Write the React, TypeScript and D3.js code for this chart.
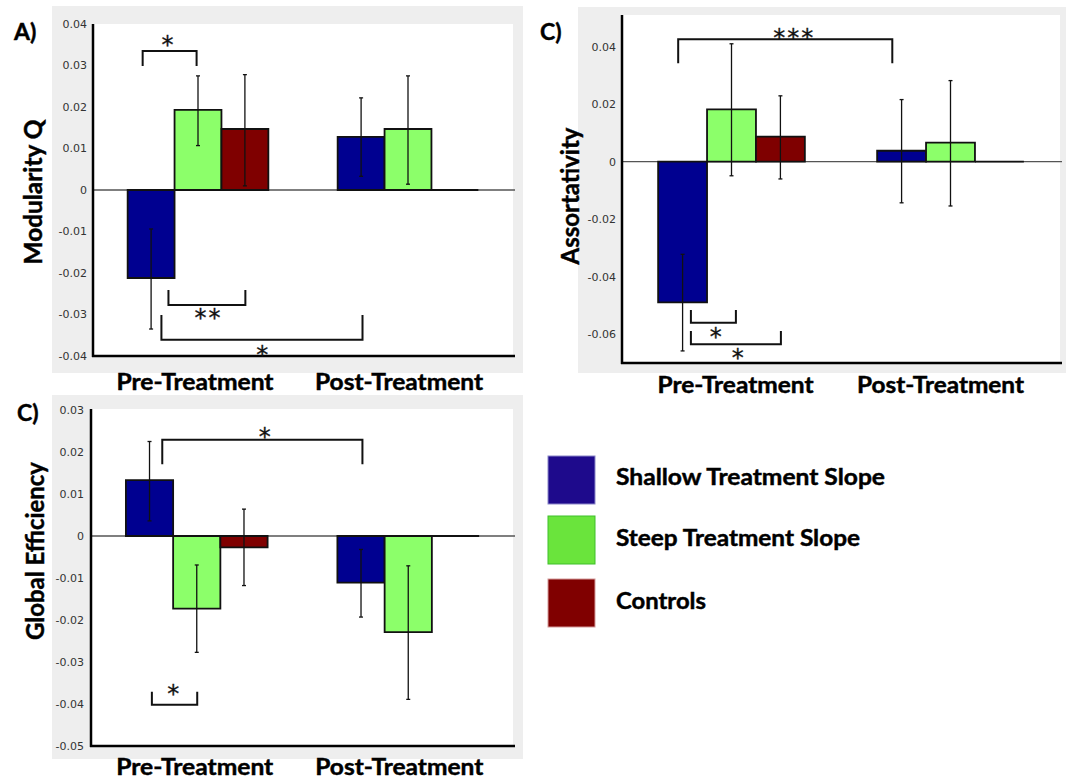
import React from "react";
import * as d3 from "d3";

// ---------- data ----------
const groups = ["Pre-Treatment", "Post-Treatment"];
const seriesNames = ["Shallow Treatment Slope", "Steep Treatment Slope", "Controls"];

// Modularity Q
const modularityShallow = [-0.0212, 0.0128];
const modularitySteep = [0.0193, 0.0147];
const modularityControls = [0.0147, 0];
const modularityShallowErr = [[-0.0335, -0.0094], [0.0033, 0.0222]];
const modularitySteepErr = [[0.0107, 0.0275], [0.0014, 0.0275]];
const modularityControlsErr = [[0.001, 0.0278], null];
const modularityTicks = [-0.04, -0.03, -0.02, -0.01, 0, 0.01, 0.02, 0.03, 0.04];
const modularityTickLabels = ["-0.04", "-0.03", "-0.02", "-0.01", "0", "0.01", "0.02", "0.03", "0.04"];
const modularityBrackets = [
  { from: [0, -0.18], to: [0, 0.97], bar: 0.0335, leg: 0.0299, text: "*", at: [0, 0.35], textY: 0.0363 },
  { from: [0, 0.37], to: [0, 2.01], bar: -0.0277, leg: -0.0241, text: "**", at: [0, 1.2], textY: -0.0296 },
  { from: [0, 0.22], to: [1, 0.03], bar: -0.0361, leg: -0.0301, text: "*", at: [0, 2.37], textY: -0.0383 },
];

// Assortativity
const assortShallow = [-0.0489, 0.0038];
const assortSteep = [0.0182, 0.0066];
const assortControls = [0.0087, 0];
const assortShallowErr = [[-0.0658, -0.0322], [-0.0143, 0.0216]];
const assortSteepErr = [[-0.0049, 0.041], [-0.0154, 0.0282]];
const assortControlsErr = [[-0.006, 0.0229], null];
const assortTicks = [-0.06, -0.04, -0.02, 0, 0.02, 0.04];
const assortTickLabels = ["-0.06", "-0.04", "-0.02", "0", "0.02", "0.04"];
const assortBrackets = [
  { from: [0, -0.09], to: [1, -0.19], bar: 0.0426, leg: 0.0342, text: "***", at: [0, 2.26], textY: 0.0451 },
  { from: [0, 0.17], to: [0, 1.09], bar: -0.056, leg: -0.0516, text: "*", at: [0, 0.68], textY: -0.0591 },
  { from: [0, 0.17], to: [0, 2.01], bar: -0.0635, leg: -0.0589, text: "*", at: [0, 1.13], textY: -0.0665 },
];

// Global Efficiency
const effShallow = [0.0133, -0.0111];
const effSteep = [-0.0173, -0.0229];
const effControls = [-0.0027, 0];
const effShallowErr = [[0.0036, 0.0225], [-0.0193, -0.0032]];
const effSteepErr = [[-0.0277, -0.0069], [-0.0389, -0.0071]];
const effControlsErr = [[-0.0118, 0.0064], null];
const effTicks = [-0.05, -0.04, -0.03, -0.02, -0.01, 0, 0.01, 0.02, 0.03];
const effTickLabels = ["-0.05", "-0.04", "-0.03", "-0.02", "-0.01", "0", "0.01", "0.02", "0.03"];
const effBrackets = [
  { from: [0, 0.27], to: [1, 0.03], bar: 0.0229, leg: 0.0171, text: "*", at: [0, 2.44], textY: 0.0248 },
  { from: [0, 0.05], to: [0, 1.01], bar: -0.0402, leg: -0.0371, text: "*", at: [0, 0.5], textY: -0.0362 },
];

// ---------- styles ----------
const barColors = ["#000090", "#8CFF6A", "#7F0000"];
const legendColors = ["#1E0A8C", "#6AE43C", "#800000"];
const legendStroke = ["#8a86c8", "#3fbf2a", "#d49a9a"];
const bgGray = "#EEEEEE";
const bigFont = "Lato, 'Open Sans', sans-serif";
const tickFont = "'DejaVu Sans', sans-serif";
const boldStroke = 0.45;

const panels = [
  {
    label: "A)", title: "Modularity Q",
    series: [modularityShallow, modularitySteep, modularityControls],
    errs: [modularityShallowErr, modularitySteepErr, modularityControlsErr],
    ticks: modularityTicks, tickLabels: modularityTickLabels, brackets: modularityBrackets,
    L: { bg: [52, 6, 471, 367], xRange: [93, 513], axisRight: 515, yDomain: [-0.04, 0.04], yRange: [356, 24], axisTop: 24,
      tickX: 87, labelPos: [14, 40], titlePos: [42, 192], titleLen: 145, xLabelY: 390, xLabelDx: [-3, -9], xLabelLen: [157, 168] },
  },
  {
    label: "C)", title: "Assortativity",
    series: [assortShallow, assortSteep, assortControls],
    errs: [assortShallowErr, assortSteepErr, assortControlsErr],
    ticks: assortTicks, tickLabels: assortTickLabels, brackets: assortBrackets,
    L: { bg: [578, 7, 488, 366], xRange: [622, 1060], axisRight: 1062, yDomain: [-0.07, 0.05], yRange: [363, 17.9], axisTop: 15,
      tickX: 616, labelPos: [540, 40], titlePos: [579, 196], titleLen: 137, xLabelY: 393, xLabelDx: [4, -10], xLabelLen: [156, 167] },
  },
  {
    label: "C)", title: "Global Efficiency",
    series: [effShallow, effSteep, effControls],
    errs: [effShallowErr, effSteepErr, effControlsErr],
    ticks: effTicks, tickLabels: effTickLabels, brackets: effBrackets,
    L: { bg: [52, 395, 471, 364], xRange: [91, 514], axisRight: 515, yDomain: [-0.05, 0.03], yRange: [746, 410], axisTop: 409,
      tickX: 84, labelPos: [17, 421], titlePos: [44, 551], titleLen: 178, xLabelY: 775, xLabelDx: [-2, -9], xLabelLen: [157, 168] },
  },
];

function Panel({ p }: { p: any }) {
  const L = p.L;
  const x = d3.scaleBand().domain(groups).range(L.xRange).paddingInner(0.33).paddingOuter(0.165);
  const y = d3.scaleLinear().domain(L.yDomain).range(L.yRange);
  const bw = x.bandwidth() / 3;
  const xPos = (g: number, s: number) => (x(groups[g]) as number) + (s + 0.5) * bw;
  const y0 = y(0);
  const starFs = 24;
  return (
    <g>
      <rect x={L.bg[0]} y={L.bg[1]} width={L.bg[2]} height={L.bg[3]} fill={bgGray} />
      <rect x={L.xRange[0]} y={L.axisTop} width={L.axisRight - L.xRange[0] - 2} height={L.yRange[0] - L.axisTop} fill="#fff" />
      <line x1={L.xRange[0]} x2={L.axisRight} y1={y0} y2={y0} stroke="#555" strokeWidth={1.3} />
      {p.series.map((vals: number[], s: number) =>
        vals.map((v: number, g: number) => {
          const cx = xPos(g, s);
          const x1 = cx - bw / 2;
          const x2 = cx + bw / 2;
          const yv = y(v);
          return (
            <path key={`b${s}-${g}`} d={`M${x1},${y0}H${x2}V${yv}H${x1}Z`} fill={barColors[s]} stroke="#111" strokeWidth={1.8} />
          );
        })
      )}
      {p.errs.map((errs: any[], s: number) =>
        errs.map((e: any, g: number) => {
          if (!e) return null;
          const cx = xPos(g, s);
          return (
            <g key={`e${s}-${g}`} stroke="#111" strokeWidth={1.3}>
              <line x1={cx} x2={cx} y1={y(e[0])} y2={y(e[1])} />
              <line x1={cx - 2} x2={cx + 2} y1={y(e[0])} y2={y(e[0])} />
              <line x1={cx - 2} x2={cx + 2} y1={y(e[1])} y2={y(e[1])} />
            </g>
          );
        })
      )}
      <line x1={L.xRange[0]} x2={L.xRange[0]} y1={L.axisTop} y2={L.yRange[0] + 1} stroke="#000" strokeWidth={2.5} />
      <line x1={L.xRange[0] - 1} x2={L.axisRight} y1={L.yRange[0]} y2={L.yRange[0]} stroke="#000" strokeWidth={2.5} />
      {p.ticks.map((t: number, i: number) => (
        <text key={`t${i}`} x={L.tickX} y={y(t)} dy="0.36em" textAnchor="end" fontFamily={tickFont} fontSize={11} fill="#333">
          {p.tickLabels[i]}
        </text>
      ))}
      {p.brackets.map((b: any, i: number) => {
        const xa = xPos(b.from[0], b.from[1]);
        const xb = xPos(b.to[0], b.to[1]);
        const yb = y(b.bar);
        const yl = y(b.leg);
        const tx = xPos(b.at[0], b.at[1]);
        const ty = y(b.textY);
        return (
          <g key={`k${i}`}>
            <path d={`M${xa},${yl}V${yb}H${xb}V${yl}`} fill="none" stroke="#111" strokeWidth={2} />
            <text x={tx + 1} y={ty + 0.565 * starFs} textAnchor="middle" fontFamily={tickFont} fontSize={starFs} letterSpacing={2}
              fill="#111" stroke="#111" strokeWidth={0.3}>
              {b.text}
            </text>
          </g>
        );
      })}
      <text x={L.labelPos[0]} y={L.labelPos[1]} fontFamily={bigFont} fontWeight={700} fontSize={23} fill="#000"
        stroke="#000" strokeWidth={boldStroke}>{p.label}</text>
      <text transform={`translate(${L.titlePos[0]},${L.titlePos[1]}) rotate(-90)`} textAnchor="middle" fontFamily={bigFont}
        fontWeight={700} fontSize={25} textLength={L.titleLen} lengthAdjust="spacingAndGlyphs" fill="#000"
        stroke="#000" strokeWidth={boldStroke}>{p.title}</text>
      {groups.map((gname, g) => (
        <text key={`x${g}`} x={(x(gname) as number) + x.bandwidth() / 2 + L.xLabelDx[g]} y={L.xLabelY} textAnchor="middle"
          fontFamily={bigFont} fontWeight={700} fontSize={22.5} textLength={L.xLabelLen[g]} lengthAdjust="spacingAndGlyphs" fill="#000"
          stroke="#000" strokeWidth={boldStroke}>
          {gname}
        </text>
      ))}
    </g>
  );
}

const legendY = [456, 516, 579];
const legendTextY = [485, 546, 609];
const legendLen = [269, 244, 90];

export default function App() {
  return (
    <svg width={1071} height={780} style={{ position: "absolute", left: 0, top: 0, background: "#fff" }}>
      {panels.map((p, i) => <Panel key={i} p={p} />)}
      {seriesNames.map((name, i) => (
        <g key={name}>
          <rect x={548} y={legendY[i]} width={47} height={48} fill={legendColors[i]} stroke={legendStroke[i]} strokeWidth={1} />
          <text x={616} y={legendTextY[i]} fontFamily={bigFont} fontWeight={700} fontSize={22.5} textLength={legendLen[i]}
            lengthAdjust="spacingAndGlyphs" fill="#000" stroke="#000" strokeWidth={boldStroke}>{name}</text>
        </g>
      ))}
    </svg>
  );
}
